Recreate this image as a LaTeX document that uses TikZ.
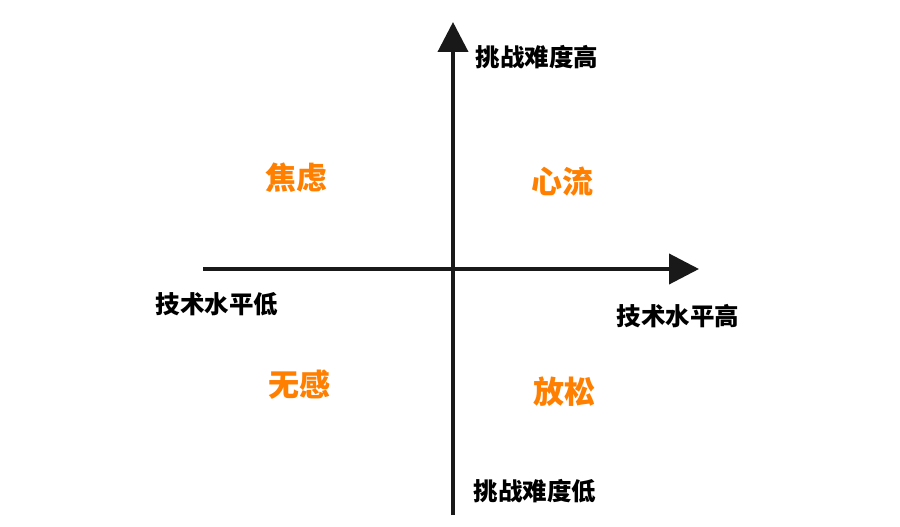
\documentclass[tikz,border=0pt]{standalone}
\usepackage{fontspec}
\usetikzlibrary{arrows.meta}
\newfontfamily\cjk{Noto Sans CJK SC}
\definecolor{quadorange}{RGB}{255,128,0}
\tikzset{
  axis/.style={line width=4pt, black!90, -{Triangle[length=30pt, width=30pt]}},
  axislabel/.style={font=\cjk\bfseries\fontsize{24.5}{24.5}\selectfont, text=black, inner sep=0pt},
  quadlabel/.style={font=\cjk\bfseries\fontsize{31}{31}\selectfont, text=quadorange, inner sep=0pt}
}
\begin{document}
\begin{tikzpicture}[x=1pt, y=-1pt]
    \useasboundingbox[fill=white] (0,0) rectangle (900,527);
    % axes
    \coordinate (ybot) at (453,515);
    \coordinate (ytop) at (453,22);
    \coordinate (xleft) at (203,269);
    \coordinate (xright) at (699,269);
    \draw[axis] (ybot) -- (ytop);
    \draw[axis] (xleft) -- (xright);
    % axis ends
    \node[axislabel] (hichal) at (537,57) {挑战难度高};
    \node[axislabel] (lochal) at (535,491) {挑战难度低};
    \node[axislabel] (loskill) at (217,304) {技术水平低};
    \node[axislabel] (hiskill) at (678,316) {技术水平高};
    % quadrants
    \foreach \name/\x/\y/\txt in {anxiety/296/178/焦虑, flow/562/182/心流,
        apathy/299/385/无感, relax/564/392/放松}
        \node[quadlabel] (\name) at (\x,\y) {\txt};
\end{tikzpicture}
\end{document}
